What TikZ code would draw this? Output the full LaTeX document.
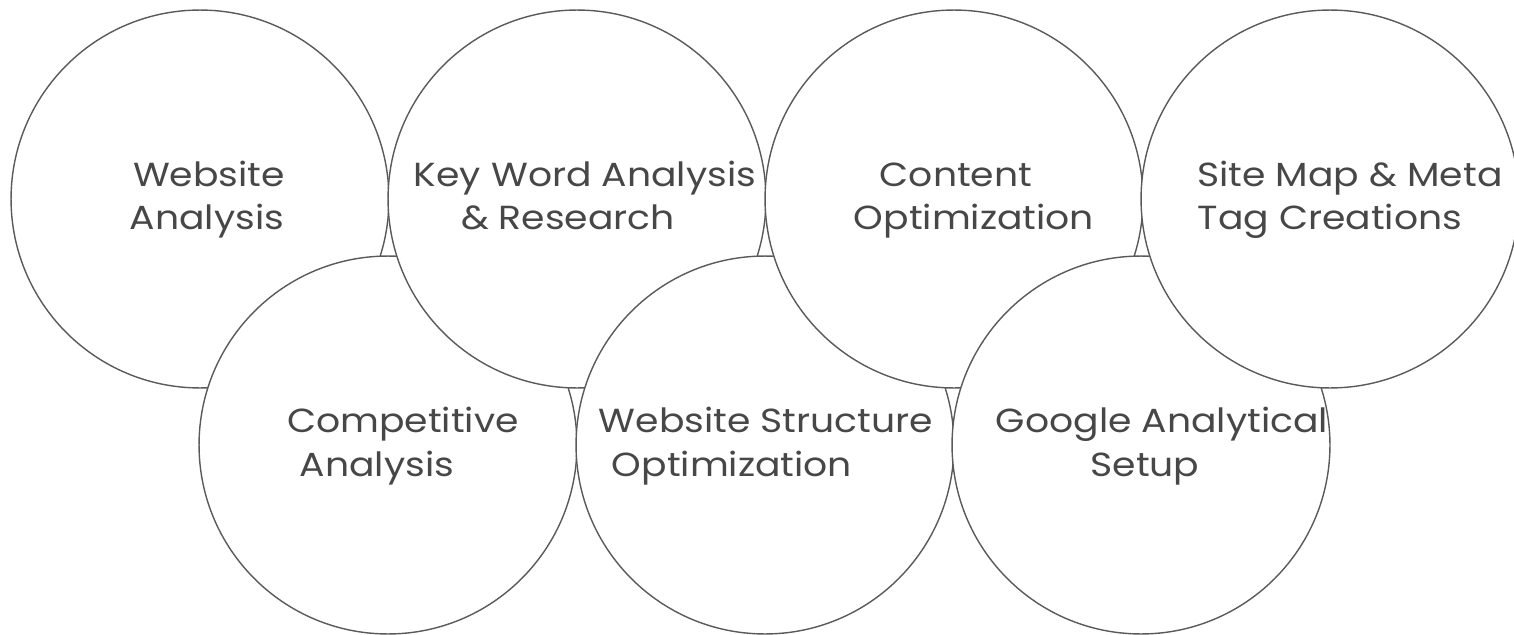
\documentclass[tikz,border=0pt]{standalone}
\usepackage{fontspec}
\setmainfont[FakeStretch=1.13]{Poppins}
\definecolor{linegray}{HTML}{5A5A5A}
\definecolor{textgray}{HTML}{474747}
\tikzset{
  circ/.style={circle, draw=linegray, line width=0.8pt, fill=white, minimum size=7.56cm, inner sep=0pt},
  lbl/.style={anchor=base, text=textgray, inner sep=0pt, font=\fontsize{19}{23}\selectfont}
}
\begin{document}
\begin{tikzpicture}[x=0.02cm,y=-0.02cm]
\useasboundingbox (0,0) rectangle (1514,635);
\node[circ] (c1) at (200,199) {};
\node[circ] (c5) at (388,445) {};
\node[circ] (c2) at (577,199) {};
\node[circ] (c6) at (765,445) {};
\node[circ] (c3) at (954,199) {};
\node[circ] (c7) at (1141,445) {};
\node[circ] (c4) at (1330,199) {};
% labels
\node[lbl] (t1a) at (209,186) {Website};
\node[lbl] (t1b) at (207,229) {Analysis};
\node[lbl] (t2a) at (585,186) {Key Word Analysis};
\node[lbl] (t2b) at (568,229) {\& Research};
\node[lbl] (t3a) at (956,186) {Content};
\node[lbl] (t3b) at (974,229) {Optimization};
\node[lbl] (t4a) at (1350,186) {Site Map \& Meta};
\node[lbl] (t4b) at (1330,229) {Tag Creations};
\node[lbl] (t5a) at (403,432) {Competitive};
\node[lbl] (t5b) at (377,476) {Analysis};
\node[lbl] (t6a) at (766,432) {Website Structure};
\node[lbl] (t6b) at (732,476) {Optimization};
\node[lbl] (t7a) at (1162,432) {Google Analytical};
\node[lbl] (t7b) at (1145,476) {Setup};
\end{tikzpicture}
\end{document}
